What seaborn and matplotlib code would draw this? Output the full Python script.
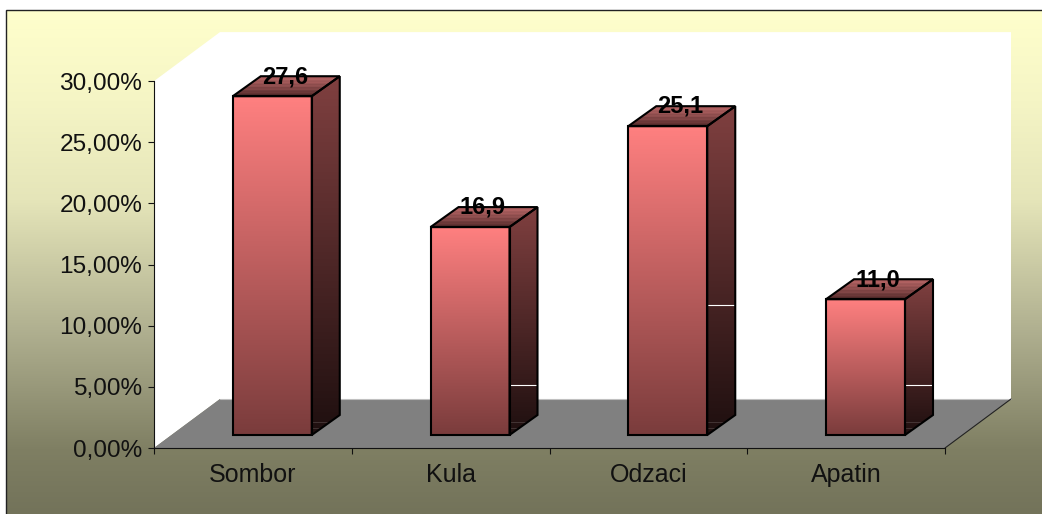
import numpy as np
import pandas as pd
import matplotlib
matplotlib.use("Agg")
import matplotlib.pyplot as plt
from matplotlib.colors import LinearSegmentedColormap
from matplotlib.patches import Polygon, Rectangle
import seaborn as sns

# Values
TOWNS = ["Sombor", "Kula", "Odzaci", "Apatin"]
SHARES = [27.7, 17.0, 25.25, 11.1]
BAR_LABELS = ["27,6", "16,9", "25,1", "11,0"]
Y_TICKS = [0, 5, 10, 15, 20, 25, 30]
Y_LABELS = ["0,00%", "5,00%", "10,00%", "15,00%", "20,00%", "25,00%", "30,00%"]
# white glitch lines on the bar sides, and the faint streaks near their foot
SIDE_GLITCH = [None, 5.15, 11.7, 5.15]
SIDE_STREAKS = [1.6, 2.1]

W, H = 1042, 514
PX_X = 197.75    # pixels per category
PX_Y = 12.23     # pixels per percent
X0, Y0 = 154, 448  # pixel position of the axes corner

BAR_WIDTH = 79 / PX_X
BAR_SHIFT = 0.098
BAR_BASE = 13 / PX_Y
SIDE_DX, SIDE_DY = 28 / PX_X, 20 / PX_Y
WALL_DX, WALL_DY = 66 / PX_X, 49 / PX_Y

BG = LinearSegmentedColormap.from_list(
    "bg", [(0, "#ffffcc"), (0.18, "#f5f5c5"), (0.377, "#e5e5b9"), (0.635, "#b0b090"),
           (0.873, "#7f7f63"), (1, "#73735a")])
FRONT = LinearSegmentedColormap.from_list("front", ["#ff8080", "#7a3c3c"])
SIDE = LinearSegmentedColormap.from_list("side", ["#804040", "#1e0f0f"])
# banded like the reference, back edge first
TOP = LinearSegmentedColormap.from_list(
    "top", ["#bd6a6a", "#a85c5c", "#b56464", "#985454", "#a85c5c", "#884a4a", "#985454",
            "#763f3f", "#884a4a", "#663636", "#703a3a", "#552c2c", "#4c2727"])
RAMP = np.linspace(0, 1, 256).reshape(-1, 1)


def shaded(ax, patch, cmap, zorder):
    # fill a patch with a vertical gradient clipped to its outline
    ax.add_patch(patch)
    corners = patch.get_path().vertices if isinstance(patch, Polygon) else patch.get_corners()
    extent = (corners[:, 0].min(), corners[:, 0].max(), corners[:, 1].min(), corners[:, 1].max())
    im = ax.imshow(RAMP, cmap=cmap, extent=extent, aspect="auto", zorder=zorder, interpolation="bilinear")
    im.set_clip_path(patch)
    return patch


sns.set_style("white")
plt.rcParams["font.family"] = ["Liberation Sans", "DejaVu Sans"]

fig = plt.figure(figsize=(W / 100, H / 100), dpi=100)
ax = fig.add_axes([0, 0, 1, 1])

df = pd.DataFrame({"town": TOWNS, "share": SHARES})
sns.barplot(data=df, x="town", y="share", width=BAR_WIDTH, color="#ff8080", saturation=1,
            edgecolor="black", linewidth=1.5, ax=ax)

# background and outer border
ax.imshow(RAMP, cmap=BG, extent=(6 / W, 1, 0, 1 - 10 / H), transform=ax.transAxes,
          aspect="auto", zorder=-5)
ax.add_patch(Rectangle((6 / W, -0.1), 1.1, 1.1 - 10 / H, transform=ax.transAxes,
                       facecolor="none", edgecolor="#222222", linewidth=1.0, zorder=-4))

# wall and floor
left, right = -0.5, 3.5
ax.add_patch(Polygon([(left, 0), (left, 30), (left + WALL_DX, 30 + WALL_DY), (right + WALL_DX, 30 + WALL_DY),
                      (right + WALL_DX, WALL_DY), (left + WALL_DX, WALL_DY)],
                     facecolor="white", edgecolor="none", zorder=-3))
ax.add_patch(Polygon([(left, 0), (left + WALL_DX, WALL_DY), (right + WALL_DX, WALL_DY), (right, 0)],
                     facecolor="#808080", edgecolor="none", zorder=-2))
ax.plot([left + WALL_DX, right + WALL_DX], [WALL_DY, WALL_DY], color="#c0c0c0", lw=0.8, zorder=-1)
ax.plot([right, right + WALL_DX], [0, WALL_DY], color="#222222", lw=0.8, zorder=-1)

# bars: seaborn gives the front faces, the rest is built from them
for bar, label, glitch in zip(ax.patches[:4], BAR_LABELS, SIDE_GLITCH):
    bar.set_x(bar.get_x() + BAR_SHIFT)
    bar.set_y(BAR_BASE)
    bar.set_facecolor("none")
    bar.set_zorder(6)
    x0, x1 = bar.get_x(), bar.get_x() + bar.get_width()
    y0, y1 = BAR_BASE, BAR_BASE + bar.get_height()
    shaded(ax, Rectangle((x0, y0), x1 - x0, y1 - y0, facecolor="none", edgecolor="none"), FRONT, 1)
    side = [(x1, y0), (x1 + SIDE_DX, y0 + SIDE_DY), (x1 + SIDE_DX, y1 + SIDE_DY), (x1, y1)]
    top = [(x0, y1), (x1, y1), (x1 + SIDE_DX, y1 + SIDE_DY), (x0 + SIDE_DX, y1 + SIDE_DY)]
    side_clip = shaded(ax, Polygon(side, facecolor="none", edgecolor="none"), SIDE, 1)
    shaded(ax, Polygon(top, facecolor="none", edgecolor="none"), TOP, 1)
    ax.add_patch(Polygon(side, facecolor="none", edgecolor="black", linewidth=1.5, zorder=5, joinstyle="miter"))
    ax.add_patch(Polygon(top, facecolor="none", edgecolor="black", linewidth=1.5, zorder=5, joinstyle="miter"))
    for level in SIDE_STREAKS:
        streak, = ax.plot([x1, x1 + SIDE_DX], [level, level], color="white", alpha=0.15, lw=0.7, zorder=4)
        streak.set_clip_path(side_clip)
    if glitch is not None:
        ax.plot([x1, x1 + SIDE_DX], [glitch, glitch], color="white", lw=0.8, zorder=4)
    ax.annotate(label, ((x0 + x1) / 2, y1), xytext=(9.2, 9.5), textcoords="offset points",
                ha="center", va="baseline", fontsize=17, fontweight="bold", color="black", zorder=8)

# axes lines live on the data plane, the axes itself fills the figure
for name in ["top", "right"]:
    ax.spines[name].set_visible(False)
ax.spines["left"].set_position(("data", left))
ax.spines["left"].set_bounds(0, 30)
ax.spines["bottom"].set_position(("data", 0))
ax.spines["bottom"].set_bounds(left, right)
for name in ["left", "bottom"]:
    ax.spines[name].set_color("#111111")
    ax.spines[name].set_linewidth(0.8)

ax.set_yticks(Y_TICKS, Y_LABELS)
ax.set_xticks(np.arange(-0.5, 4), [""] * 5)
ax.set_xticks(np.arange(4), TOWNS, minor=True)
ax.tick_params(axis="y", left=True, length=4.5, width=0.8, color="#111111", pad=4, labelsize=17.6, labelcolor="#111111")
ax.tick_params(axis="x", which="major", bottom=True, length=4, width=0.8, color="#111111")
ax.tick_params(axis="x", which="minor", bottom=True, length=0, pad=10.5, labelsize=18, labelcolor="#111111")
ax.set_xlabel("")
ax.set_ylabel("")

ax.set_xlim(-0.5 - X0 / PX_X, -0.5 + (W - X0) / PX_X)
ax.set_ylim(-(H - Y0) / PX_Y, Y0 / PX_Y)

fig.savefig("out.png", dpi=100, facecolor="white")
